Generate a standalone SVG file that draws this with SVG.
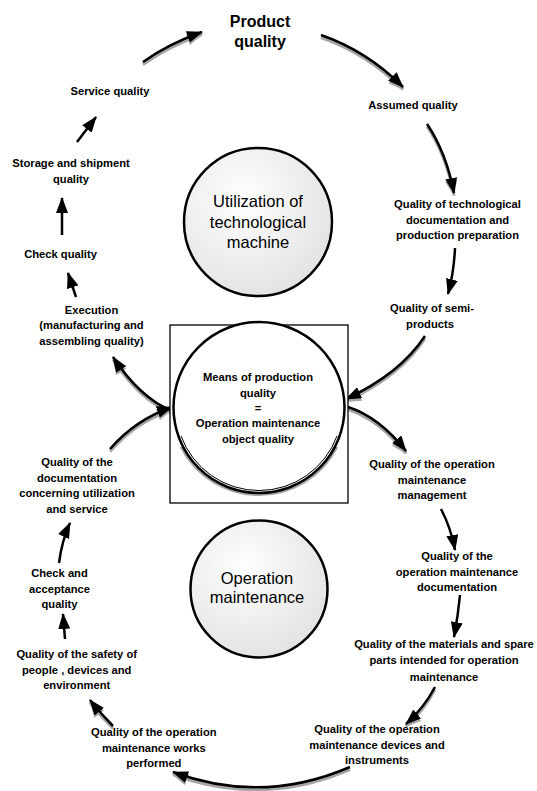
<svg xmlns="http://www.w3.org/2000/svg" xmlns:xlink="http://www.w3.org/1999/xlink" width="537" height="791" viewBox="0 0 537 791">
<style>
  text { font-family: "Liberation Sans", Arial, sans-serif; fill: #000; text-anchor: middle; }
  .lbl { font-size: 11.2px; font-weight: bold; }
  .title { font-size: 16px; font-weight: bold; }
  .big { font-size: 16.5px; font-weight: normal; }
  .conn { fill: none; stroke: #000; stroke-width: 2.5; marker-end: url(#ah); }
  .shadow { fill: none; stroke: #a6a6a6; stroke-width: 3; marker-end: url(#ahs); }
  .disc { stroke: #000; stroke-width: 2.5; fill: url(#grey); }
</style>
<defs>
  <marker id="ah" markerWidth="16" markerHeight="12" refX="15" refY="6" orient="auto" markerUnits="userSpaceOnUse">
    <path d="M0,0 L16,6 L0,12 Z" fill="#000"/>
  </marker>
  <marker id="ahs" markerWidth="16" markerHeight="12" refX="15" refY="6" orient="auto" markerUnits="userSpaceOnUse">
    <path d="M0,0 L16,6 L0,12 Z" fill="#a6a6a6"/>
  </marker>
  <radialGradient id="grey" cx="0.4" cy="0.35" r="0.7">
    <stop offset="0" stop-color="#ffffff"/>
    <stop offset="1" stop-color="#e2e2e2"/>
  </radialGradient>
  <path id="p1" d="M143,62 Q168,44 202,32"/>
  <path id="p2" d="M321,35 Q367,51 403,87"/>
  <path id="p3" d="M427,124 Q446,152 454,193"/>
  <path id="p4" d="M455,248 Q454,272 448,294"/>
  <path id="p5" d="M425,336 Q400,374 346,399"/>
  <path id="p6" d="M348,407 Q379,417 406,451"/>
  <path id="p7" d="M441,509 Q451,528 455,550"/>
  <path id="p8" d="M460,595 Q458,616 454,637"/>
  <path id="p9" d="M435,687 Q424,708 406,724"/>
  <path id="p10" d="M350,767 Q262,805 173,772"/>
  <path id="p11" d="M113,726 Q101,714 90,700"/>
  <path id="p12" d="M65,639 L63,614"/>
  <path id="p13" d="M59,563 Q62,540 70,523"/>
  <path id="p14" d="M110,449 Q135,420 172,407"/>
  <path id="p15" d="M172,411 Q140,398 113,357"/>
  <path id="p16" d="M76,297 L68,273"/>
  <path id="p17" d="M62,235 L62,198"/>
  <path id="p18" d="M77,142 L96,117"/>
</defs>

<g id="connectors">
  <g id="shadows" transform="translate(0,2.5)">
    <use xlink:href="#p1" class="shadow"/>
    <use xlink:href="#p2" class="shadow"/>
    <use xlink:href="#p3" class="shadow"/>
    <use xlink:href="#p5" class="shadow"/>
    <use xlink:href="#p6" class="shadow"/>
    <use xlink:href="#p9" class="shadow"/>
    <use xlink:href="#p10" class="shadow"/>
    <use xlink:href="#p11" class="shadow"/>
    <use xlink:href="#p14" class="shadow"/>
    <use xlink:href="#p15" class="shadow"/>
  </g>
  <use xlink:href="#p1" class="conn"/>
  <use xlink:href="#p2" class="conn"/>
  <use xlink:href="#p3" class="conn"/>
  <use xlink:href="#p4" class="conn"/>
  <use xlink:href="#p5" class="conn"/>
  <use xlink:href="#p6" class="conn"/>
  <use xlink:href="#p7" class="conn"/>
  <use xlink:href="#p8" class="conn"/>
  <use xlink:href="#p9" class="conn"/>
  <use xlink:href="#p10" class="conn"/>
  <use xlink:href="#p11" class="conn"/>
  <use xlink:href="#p12" class="conn"/>
  <use xlink:href="#p13" class="conn"/>
  <use xlink:href="#p14" class="conn"/>
  <use xlink:href="#p15" class="conn"/>
  <use xlink:href="#p16" class="conn"/>
  <use xlink:href="#p17" class="conn"/>
  <use xlink:href="#p18" class="conn"/>
</g>

<g id="product-quality">
  <text class="title" x="260" y="27">Product</text>
  <text class="title" x="260" y="47">quality</text>
</g>
<g id="service-quality"><text class="lbl" x="110" y="95">Service quality</text></g>
<g id="assumed-quality"><text class="lbl" x="413" y="109">Assumed quality</text></g>
<g id="storage-quality">
  <text class="lbl" x="71" y="167">Storage and shipment</text>
  <text class="lbl" x="71" y="183">quality</text>
</g>
<g id="check-quality"><text class="lbl" x="60.5" y="258">Check quality</text></g>

<g id="utilization">
  <circle class="disc" cx="258" cy="222" r="74"/>
  <text class="big" x="258" y="207">Utilization of</text>
  <text class="big" x="258" y="227.5">technological</text>
  <text class="big" x="258" y="248">machine</text>
</g>

<g id="tech-doc-quality">
  <text class="lbl" x="457.5" y="208">Quality of technological</text>
  <text class="lbl" x="457.5" y="223.5">documentation and</text>
  <text class="lbl" x="457.5" y="239">production preparation</text>
</g>
<g id="semi-products">
  <text class="lbl" x="432" y="311.5">Quality of semi-</text>
  <text class="lbl" x="430" y="327.5">products</text>
</g>
<g id="execution">
  <text class="lbl" x="91.5" y="313.5">Execution</text>
  <text class="lbl" x="91.5" y="329">(manufacturing and</text>
  <text class="lbl" x="91.5" y="344.5">assembling quality)</text>
</g>

<g id="means-of-production">
  <rect x="170" y="325" width="178" height="178" fill="#fff" stroke="#000" stroke-width="1.3"/>
  <path d="M181,445 A87.5,87.5 0 0 0 337,445" fill="none" stroke="#a6a6a6" stroke-width="2.5" transform="translate(0,2)"/>
  <circle cx="259" cy="407.5" r="85.5" fill="#fff" stroke="#000" stroke-width="2.5"/>
  <path d="M181,435.9 A83,83 0 0 0 337,435.9" fill="none" stroke="#000" stroke-width="1"/>
  <text class="lbl" x="258" y="380.7">Means of production</text>
  <text class="lbl" x="258" y="396.5">quality</text>
  <text class="lbl" x="258" y="411.5">=</text>
  <text class="lbl" x="258" y="427.3">Operation maintenance</text>
  <text class="lbl" x="258" y="443">object quality</text>
</g>

<g id="om-management">
  <text class="lbl" x="432" y="467.5">Quality of the operation</text>
  <text class="lbl" x="432" y="483.5">maintenance</text>
  <text class="lbl" x="432" y="499">management</text>
</g>
<g id="doc-utilization">
  <text class="lbl" x="77" y="466">Quality of the</text>
  <text class="lbl" x="77" y="481.5">documentation</text>
  <text class="lbl" x="77" y="497">concerning utilization</text>
  <text class="lbl" x="77" y="512.5">and service</text>
</g>

<g id="operation-maintenance">
  <circle class="disc" cx="259" cy="589" r="68.5"/>
  <text class="big" x="257" y="583.7">Operation</text>
  <text class="big" x="257" y="603">maintenance</text>
</g>

<g id="om-documentation">
  <text class="lbl" x="457" y="560.3">Quality of the</text>
  <text class="lbl" x="457" y="576.3">operation maintenance</text>
  <text class="lbl" x="457" y="591">documentation</text>
</g>
<g id="check-acceptance">
  <text class="lbl" x="59.5" y="577">Check and</text>
  <text class="lbl" x="59.5" y="592.7">acceptance</text>
  <text class="lbl" x="59.5" y="608">quality</text>
</g>
<g id="materials">
  <text class="lbl" x="444" y="647.7">Quality of the materials and spare</text>
  <text class="lbl" x="444" y="663.5">parts intended for operation</text>
  <text class="lbl" x="444" y="681">maintenance</text>
</g>
<g id="safety">
  <text class="lbl" x="76.7" y="658">Quality of the safety of</text>
  <text class="lbl" x="76.7" y="673.7">people , devices and</text>
  <text class="lbl" x="76.7" y="689.3">environment</text>
</g>
<g id="works-performed">
  <text class="lbl" x="153.8" y="736.3">Quality of the operation</text>
  <text class="lbl" x="153.8" y="751.5">maintenance works</text>
  <text class="lbl" x="153.8" y="767">performed</text>
</g>
<g id="devices-instruments">
  <text class="lbl" x="377" y="732.7">Quality of the operation</text>
  <text class="lbl" x="377" y="748.7">maintenance devices and</text>
  <text class="lbl" x="377" y="764.3">instruments</text>
</g>
</svg>
